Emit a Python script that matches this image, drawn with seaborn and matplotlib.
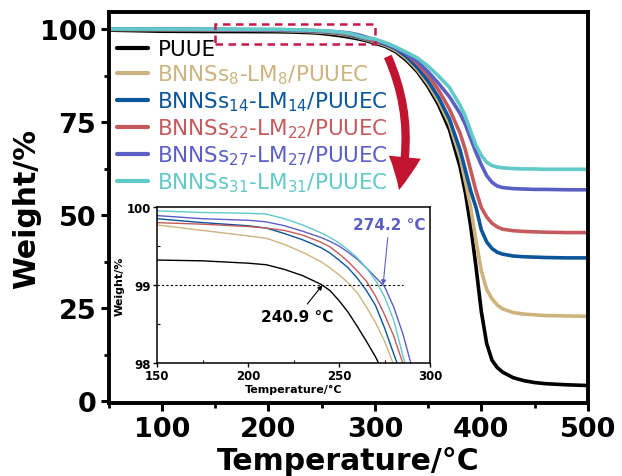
import numpy as np
import pandas as pd
import matplotlib
matplotlib.use("Agg")
import matplotlib.pyplot as plt
import seaborn as sns
from matplotlib.patches import Rectangle, FancyArrowPatch
from matplotlib.ticker import MultipleLocator

# ---------------- data ----------------
temperature = [50, 100, 150, 175, 200, 210, 220, 230, 240, 245,
               250, 255, 260, 265, 270, 275, 280, 285, 290, 295,
               300, 310, 320, 330, 340, 350, 360, 370, 380, 385,
               390, 395, 400, 405, 410, 415, 420, 430, 440, 450,
               460, 480, 500]

puue = [99.7, 99.4, 99.32, 99.31, 99.28, 99.26, 99.20, 99.12, 99.01, 98.93,
        98.80, 98.65, 98.47, 98.28, 98.08, 97.85, 97.6, 97.3, 97.0, 96.6,
        96.2, 95.3, 93.8, 91.5, 88.5, 84.5, 79.5, 73, 63, 56,
        47, 36, 24, 15.5, 11, 9, 7.8, 6.3, 5.5, 5.0,
        4.7, 4.4, 4.2]
bn8 = [99.9, 99.83, 99.77, 99.70, 99.63, 99.60, 99.52, 99.42, 99.30, 99.22,
       99.13, 99.03, 98.90, 98.72, 98.52, 98.28, 97.98, 97.65, 97.3, 96.9,
       96.5, 95.6, 94.2, 92.0, 89.0, 85.2, 80.5, 74.5, 65.5, 59,
       52, 43, 35, 30, 27.5, 25.8, 24.8, 23.8, 23.4, 23.2,
       23.0, 22.9, 22.8]
bn14 = [99.95, 99.9, 99.85, 99.80, 99.76, 99.73, 99.66, 99.58, 99.48, 99.41,
        99.32, 99.22, 99.09, 98.93, 98.74, 98.45, 98.12, 97.8, 97.45, 97.1,
        96.7, 95.9, 94.6, 92.5, 89.6, 86.0, 81.5, 75.8, 67.5, 62,
        56.5, 52, 46, 42.8, 41, 40, 39.5, 39, 38.8, 38.7,
        38.6, 38.5, 38.5]
bn22 = [99.92, 99.86, 99.80, 99.78, 99.75, 99.73, 99.70, 99.64, 99.55, 99.49,
        99.40, 99.30, 99.18, 99.05, 98.86, 98.62, 98.35, 98.0, 97.6, 97.2,
        96.8, 96.2, 95.0, 93.2, 90.7, 87.5, 83.5, 78.5, 72, 67.5,
        62, 56.5, 52, 49.5, 47.8, 46.8, 46.2, 45.8, 45.6, 45.5,
        45.4, 45.3, 45.3]
bn27 = [99.97, 99.93, 99.89, 99.85, 99.83, 99.81, 99.76, 99.69, 99.61, 99.56,
        99.50, 99.42, 99.33, 99.22, 99.10, 98.98, 98.72, 98.38, 97.95, 97.55,
        97.1, 96.2, 94.8, 93.2, 91.3, 88.5, 85.3, 81.8, 77.3, 74.3,
        70.5, 66.8, 63.5, 60.6, 58.8, 57.8, 57.4, 57.1, 57.0, 56.9,
        56.9, 56.8, 56.8]
bn31 = [100.0, 99.98, 99.95, 99.93, 99.92, 99.91, 99.85, 99.77, 99.67, 99.61,
        99.54, 99.45, 99.35, 99.22, 99.06, 98.85, 98.55, 98.1, 97.7, 97.5,
        97.3, 96.3, 95.1, 93.7, 92.2, 90.0, 87.3, 84.3, 79.5, 76.5,
        72.5, 68.7, 66.0, 64.2, 63.3, 62.9, 62.7, 62.5, 62.4, 62.4,
        62.3, 62.3, 62.3]

series_names = ["PUUE",
                "BNNSs$_{8}$-LM$_{8}$/PUUEC",
                "BNNSs$_{14}$-LM$_{14}$/PUUEC",
                "BNNSs$_{22}$-LM$_{22}$/PUUEC",
                "BNNSs$_{27}$-LM$_{27}$/PUUEC",
                "BNNSs$_{31}$-LM$_{31}$/PUUEC"]
series_values = [puue, bn8, bn14, bn22, bn27, bn31]
colors = ["#000000", "#cdb47e", "#0b559b", "#c55a5c", "#5a5fc5", "#62c9c9"]

main_xticks = [100, 200, 300, 400, 500]
main_yticks = [0, 25, 50, 75, 100]
inset_xticks = [150, 200, 250, 300]
inset_yticks = [98, 99, 100]
t5_label = "274.2 °C"
t5_puue = "240.9 °C"

# ---------------- build table ----------------
frames = []
for name, vals in zip(series_names, series_values):
    frames.append(pd.DataFrame({"Temperature": temperature, "Weight": vals, "Sample": name}))
df = pd.concat(frames, ignore_index=True)
palette = dict(zip(series_names, colors))

sns.set_style("ticks")
plt.rcParams["font.family"] = ["DejaVu Sans"]
plt.rcParams["mathtext.default"] = "regular"
for key in ["text.color", "axes.labelcolor", "xtick.color", "ytick.color", "axes.edgecolor"]:
    plt.rcParams[key] = "black"

fig = plt.figure(figsize=(6.22, 4.77), dpi=100)
ax = fig.add_axes([0.175, 0.153, 0.770, 0.820])

sns.lineplot(data=df, x="Temperature", y="Weight", hue="Sample", hue_order=series_names,
             palette=palette, linewidth=2.6, legend=False, ax=ax, sort=False)

ax.set_xlim(50, 500)
ax.set_ylim(-0.5, 104.6)
ax.set_xticks(main_xticks)
ax.set_yticks(main_yticks)
ax.xaxis.set_minor_locator(MultipleLocator(50))
ax.yaxis.set_minor_locator(MultipleLocator(12.5))
ax.tick_params(which="major", direction="out", length=6, width=2.2, labelsize=19.5, pad=3,
               colors="black")
ax.tick_params(which="minor", direction="out", length=3.5, width=2.0, colors="black")
for lab in ax.get_xticklabels() + ax.get_yticklabels():
    lab.set_fontweight("bold")
for sp in ax.spines.values():
    sp.set_linewidth(2.8)
    sp.set_color("black")
    sp.set_visible(True)
ax.set_xlabel("Temperature/°C", fontsize=21.5, fontweight="bold", labelpad=3, color="black")
ax.set_ylabel("Weight/%", fontsize=21.5, fontweight="bold", labelpad=-1, color="black")

# legend with coloured text
handles = ax.get_lines()[:6]
leg = ax.legend(handles=handles, labels=series_names, loc="upper left",
                bbox_to_anchor=(0.016, 0.93), frameon=False, fontsize=15.5,
                handlelength=1.45, handletextpad=0.45, labelspacing=0.16,
                borderpad=0, borderaxespad=0)
for txt, ln in zip(leg.get_texts(), leg.get_lines()):
    txt.set_color(ln.get_color())
    ln.set_linewidth(3.0)

# dashed zoom rectangle
ax.add_patch(Rectangle((150, 96.0), 150, 5.3, fill=False, edgecolor="#c8174a",
                       linestyle=(0, (3, 2.2)), linewidth=1.8, zorder=5))

# curved red arrow
arr = FancyArrowPatch((311, 93.3), (322, 56.0),
                      connectionstyle="arc3,rad=-0.18",
                      arrowstyle="simple,head_width=23,head_length=24,tail_width=6",
                      color="#c01430", linewidth=0, zorder=6)
ax.add_patch(arr)

# ---------------- inset ----------------
axi = fig.add_axes([0.2524, 0.2369, 0.439, 0.327])
sns.lineplot(data=df, x="Temperature", y="Weight", hue="Sample", hue_order=series_names,
             palette=palette, linewidth=1.0, legend=False, ax=axi, sort=False)
axi.set_xlim(150, 300)
axi.set_ylim(98, 100)
axi.set_xticks(inset_xticks)
axi.set_yticks(inset_yticks)
axi.xaxis.set_minor_locator(MultipleLocator(25))
axi.yaxis.set_minor_locator(MultipleLocator(0.5))
axi.tick_params(which="major", direction="out", length=3, width=1.0, labelsize=8.5, pad=1.5,
                colors="black")
axi.tick_params(which="minor", direction="in", length=2, width=0.8, colors="black")
for lab in axi.get_xticklabels() + axi.get_yticklabels():
    lab.set_fontweight("bold")
for sp in axi.spines.values():
    sp.set_linewidth(1.1)
    sp.set_color("black")
    sp.set_visible(True)
axi.set_xlabel("Temperature/°C", fontsize=8, fontweight="bold", labelpad=1, color="black")
axi.set_ylabel("Weight/%", fontsize=8, fontweight="bold", labelpad=1, color="black")

axi.plot([150, 285], [99, 99], color="black", linestyle=(0, (2, 2)), linewidth=0.8)
axi.annotate(t5_label, xy=(274.2, 99), xytext=(277.5, 99.78), color="#5a5fc5",
             fontsize=11, fontweight="bold", ha="center", va="center",
             arrowprops=dict(arrowstyle="-|>", color="#5a5fc5", lw=0.8,
                             mutation_scale=7, shrinkA=2, shrinkB=0))
axi.annotate(t5_puue, xy=(240.9, 99), xytext=(226.9, 98.59), color="black",
             fontsize=11, fontweight="bold", ha="center", va="center",
             arrowprops=dict(arrowstyle="-|>", color="black", lw=0.8,
                             mutation_scale=7, shrinkA=2, shrinkB=0))

fig.savefig("out.png", dpi=100)
